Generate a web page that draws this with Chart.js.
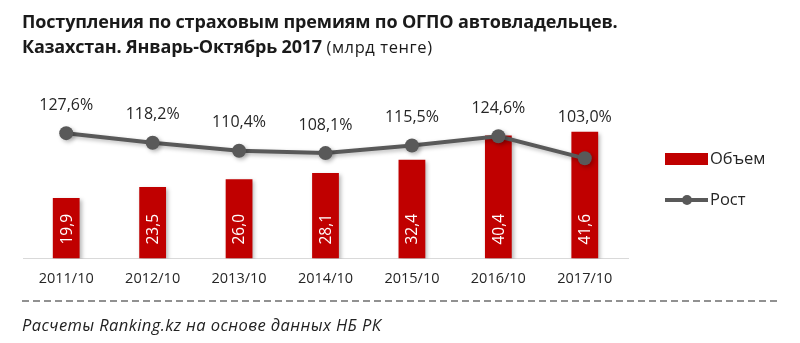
<!DOCTYPE html>
<html><head><meta charset="utf-8">
<script src="https://cdn.jsdelivr.net/npm/chart.js@4"></script>
<style>
html,body{margin:0;padding:0;background:#fff;}
#wrap{position:relative;width:800px;height:343px;overflow:hidden;font-family:"Open Sans",sans-serif;}
#c{position:absolute;left:0;top:0;}
.t1{position:absolute;left:22px;top:9px;font-weight:bold;font-size:18px;color:#1a1a1a;white-space:nowrap;letter-spacing:-0.15px;}
.t2{position:absolute;left:22px;top:34px;font-weight:bold;font-size:18px;color:#1a1a1a;white-space:nowrap;letter-spacing:-0.2px;}
.t2 span{font-weight:normal;font-size:16.5px;letter-spacing:0.6px;}
.foot{position:absolute;left:22px;top:313px;font-style:italic;font-size:16.5px;color:#222;white-space:nowrap;letter-spacing:0.4px;}
</style></head>
<body><div id="wrap">
<canvas id="c" width="800" height="343"></canvas>
<div class="t1">Поступления по страховым премиям по ОГПО автовладельцев.</div>
<div class="t2">Казахстан. Январь-Октябрь 2017 <span>(млрд тенге)</span></div>
<div class="foot">Расчеты Ranking.kz на основе данных НБ РК</div>
</div>
<script>
const categories = ['2011/10','2012/10','2013/10','2014/10','2015/10','2016/10','2017/10'];
const volume = [19.9, 23.5, 26.0, 28.1, 32.4, 40.4, 41.6];
const growth = [127.6, 118.2, 110.4, 108.1, 115.5, 124.6, 103.0];
const seriesNames = ['Объем', 'Рост'];

const fmt = v => v.toFixed(1).replace('.', ',');
const FONT = '"Open Sans", sans-serif';

const shadowPlugin = {
  id: 'shadow',
  beforeDatasetDraw(chart, args) {
    const ctx = chart.ctx;
    ctx.save();
    ctx.shadowColor = 'rgba(0,0,0,0.28)';
    ctx.shadowBlur = 4;
    ctx.shadowOffsetX = 2;
    ctx.shadowOffsetY = 2;
  },
  afterDatasetDraw(chart) { chart.ctx.restore(); }
};

const labelPlugin = {
  id: 'labels',
  afterDatasetsDraw(chart) {
    const ctx = chart.ctx;
    const barMeta = chart.getDatasetMeta(1);
    const lineMeta = chart.getDatasetMeta(0);
    ctx.save();
    ctx.font = '15.5px ' + FONT;
    barMeta.data.forEach((el, i) => {
      ctx.save();
      ctx.translate(el.x, el.base - 14);
      ctx.rotate(-Math.PI / 2);
      ctx.fillStyle = '#ffffff';
      ctx.textAlign = 'left';
      ctx.textBaseline = 'middle';
      ctx.fillText(fmt(volume[i]), 0, 1);
      ctx.restore();
    });
    ctx.font = '16px ' + FONT;
    lineMeta.data.forEach((el, i) => {
      const barTop = barMeta.data[i].y;
      const y = Math.min(el.y - 28, barTop - 14);
      ctx.fillStyle = '#262626';
      ctx.textAlign = 'center';
      ctx.textBaseline = 'middle';
      ctx.fillText(fmt(growth[i]) + '%', el.x, y);
    });
    // legend
    const lx = 665, ly1 = 159, ly2 = 200;
    ctx.fillStyle = chart.data.datasets[1].backgroundColor;
    ctx.fillRect(lx, ly1 - 6, 43, 12);
    ctx.strokeStyle = chart.data.datasets[0].borderColor;
    ctx.lineWidth = 4;
    ctx.beginPath(); ctx.moveTo(lx, ly2); ctx.lineTo(lx + 43, ly2); ctx.stroke();
    ctx.fillStyle = chart.data.datasets[0].borderColor;
    ctx.beginPath(); ctx.arc(lx + 22, ly2, 5, 0, Math.PI * 2); ctx.fill();
    ctx.fillStyle = '#262626';
    ctx.font = '16.5px ' + FONT;
    ctx.textAlign = 'left';
    ctx.textBaseline = 'middle';
    ctx.fillText(chart.data.datasets[1].label, lx + 45, ly1);
    ctx.fillText(chart.data.datasets[0].label, lx + 45, ly2);
    // dashed separator
    ctx.strokeStyle = '#6e6e6e';
    ctx.lineWidth = 1.5;
    ctx.setLineDash([7, 4]);
    ctx.beginPath(); ctx.moveTo(22, 301); ctx.lineTo(780, 301); ctx.stroke();
    ctx.restore();
  }
};

new Chart(document.getElementById('c'), {
  data: {
    labels: categories,
    datasets: [
      {
        type: 'line', label: seriesNames[1], data: growth, yAxisID: 'y2', order: 0,
        borderColor: '#595959', backgroundColor: '#595959', borderWidth: 4,
        pointRadius: 7, pointBackgroundColor: '#595959', pointBorderWidth: 0, tension: 0
      },
      {
        type: 'bar', label: seriesNames[0], data: volume, yAxisID: 'y', order: 1,
        backgroundColor: '#C00000', barPercentage: 0.31, categoryPercentage: 1.0
      }
    ]
  },
  options: {
    responsive: false, animation: false,
    devicePixelRatio: 1,
    layout: { padding: { left: 23, right: 172, top: 100, bottom: 51 } },
    plugins: { legend: { display: false }, tooltip: { enabled: false } },
    scales: {
      x: {
        grid: { display: false },
        border: { display: true, color: '#d9d9d9', width: 1 },
        ticks: { color: '#262626', font: { family: FONT, size: 14.5 }, padding: 4 }
      },
      y: { display: false, min: 0, max: 52 },
      y2: { display: false, min: 5, max: 160 }
    }
  },
  plugins: [shadowPlugin, labelPlugin]
});
</script>
</body></html>
